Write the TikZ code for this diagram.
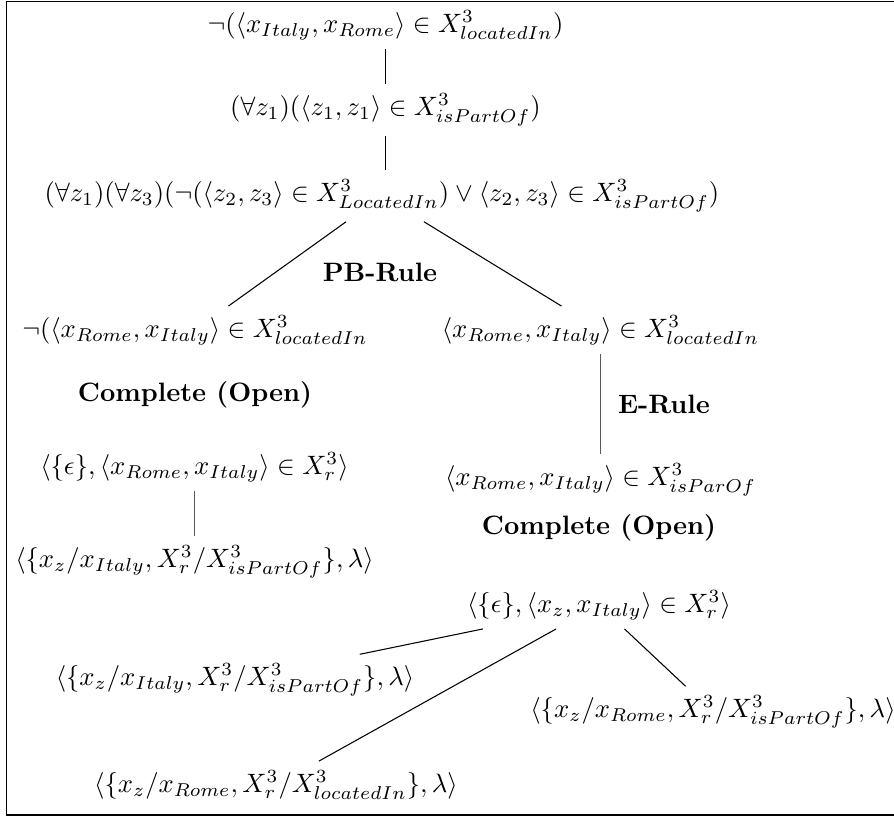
\documentclass[tikz,border=0pt]{standalone}
\usepackage{amsmath,amssymb}
\begin{document}
\begin{tikzpicture}[x=0.376pt,y=-0.376pt,
  fml/.style={inner sep=3.3pt},
  rulelbl/.style={font=\bfseries},
  edge/.style={line width=0.4pt},
  softedge/.style={line width=0.6pt,black!65}]
\useasboundingbox (0,0) rectangle (894,819);
% outer frame
\draw[line width=0.5pt] (900,1.5) -- (6.5,1.5) -- (6.5,815) -- (900,815);

% trunk of the tableau
\node[fml] (n1) at (385.5,25) {$\neg(\langle x_{Italy}, x_{Rome}\rangle \in X^3_{locatedIn})$};
\node[fml] (n2) at (385.5,110) {$(\forall z_1)(\langle z_1, z_1\rangle \in X^3_{isPartOf})$};
\node[fml] (n3) at (382,196) {$(\forall z_1)(\forall z_3)(\neg(\langle z_2, z_3\rangle \in X^3_{LocatedIn}) \vee \langle z_2, z_3\rangle \in X^3_{isPartOf})$};

% branching by PB-Rule
\node[rulelbl] (pb) at (380,272) {PB-Rule};
\node[fml] (n4) at (195,330) {$\neg(\langle x_{Rome}, x_{Italy}\rangle \in X^3_{locatedIn}$};
\node[fml] (n5) at (600.5,330) {$\langle x_{Rome}, x_{Italy}\rangle \in X^3_{locatedIn}$};

% left branch
\node[rulelbl] (c1) at (195,395) {Complete (Open)};
\node[fml] (n7) at (194.5,467) {$\langle\{\epsilon\}, \langle x_{Rome}, x_{Italy}\rangle \in X^3_r\rangle$};
\node[fml] (n8) at (194.5,562) {$\langle\{x_z/x_{Italy}, X^3_r/X^3_{isPartOf}\}, \lambda\rangle$};

% right branch
\node[rulelbl] (er) at (664,404) {E-Rule};
\node[fml] (n6) at (600.5,480) {$\langle x_{Rome}, x_{Italy}\rangle \in X^3_{isParOf}$};
\node[rulelbl] (c2) at (599,528) {Complete (Open)};
\node[fml] (n9) at (599,605) {$\langle\{\epsilon\}, \langle x_z, x_{Italy}\rangle \in X^3_r\rangle$};
\node[fml] (n10) at (235,680) {$\langle\{x_z/x_{Italy}, X^3_r/X^3_{isPartOf}\}, \lambda\rangle$};
\node[fml] (n11) at (713,712) {$\langle\{x_z/x_{Rome}, X^3_r/X^3_{isPartOf}\}, \lambda\rangle$};
\node[fml] (n12) at (276,785) {$\langle\{x_z/x_{Rome}, X^3_r/X^3_{locatedIn}\}, \lambda\rangle$};

% connectors
\draw[edge] (n1) -- (n2);
\draw[edge] (n2.south) -- (n2.south |- n3.north);
\draw[edge] (n3) -- (n4);
\draw[edge] (n3) -- (n5);
\draw[softedge] (n5) -- (n6);
\draw[softedge] (n7) -- (n8);
\draw[edge] (n9) -- (n10);
\draw[edge] (n9) -- (n11);
\draw[edge] (n9) -- (n12);
\end{tikzpicture}
\end{document}
